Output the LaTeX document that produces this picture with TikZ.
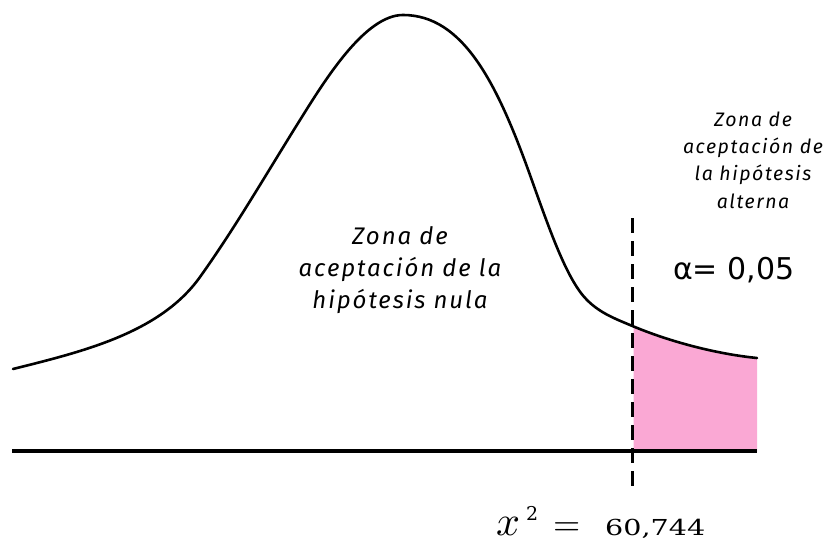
\documentclass[tikz,border=0pt]{standalone}
\usepackage{fontspec}
\setmainfont{Fira Sans}
\newfontfamily\labelfont[LetterSpace=8]{Fira Sans}
\newfontfamily\alphafont{DejaVu Sans}
\newfontfamily\numfont{DejaVu Serif}
\definecolor{tailpink}{RGB}{250,168,212}
\tikzset{
  curveline/.style={line width=2.6pt, line join=round, line cap=round},
  axisline/.style={line width=4pt},
  critline/.style={line width=3pt, dash pattern=on 15pt off 8pt},
  zonelabel/.style={align=center, inner sep=0pt, font=\labelfont\itshape\fontsize{24}{32}\selectfont},
  altlabel/.style={align=center, inner sep=0pt, font=\labelfont\itshape\fontsize{19.5}{27.3}\selectfont},
  mathpart/.style={inner sep=0pt, anchor=base west},
}
\begin{document}
\begin{tikzpicture}[x=1pt,y=-1pt]
\path[use as bounding box] (0,0) rectangle (824,540);
% tail fill
\begin{scope}
\clip (633.5,0) rectangle (757,452);
\fill[tailpink] (630,325) .. controls (670,342) and (717,354) .. (757,358) -- (757,452) -- (630,452) -- cycle;
\end{scope}
% curve
\draw[curveline] (13,369) .. controls (83,351.5) and (160,333) .. (200,277)
  .. controls (235,228) and (265,176) .. (300,120)
  .. controls (325,80) and (365,15) .. (403,15)
  .. controls (463,15) and (497,83) .. (530,175)
  .. controls (550,231) and (567,280) .. (587,300)
  .. controls (600,313) and (615,318.7) .. (630,325)
  .. controls (670,342) and (717,354) .. (757,358);
% axis
\coordinate (axL) at (12,451);
\coordinate (axR) at (757,451);
\draw[axisline] (axL) -- (axR);
% critical line
\coordinate (cTop) at (632,218);
\coordinate (cBot) at (632,491);
\draw[critline] (cTop) -- (cBot);
% labels
\node[zonelabel] (nullzone) at (400,270) {Zona de\\aceptación de la\\hipótesis nula};
\node[altlabel] (altzone) at (753,160) {Zona de\\aceptación de\\la hipótesis\\alterna};
\node[inner sep=0pt, anchor=west, font=\alphafont\fontsize{30}{30}\selectfont] (alpha) at (673,270) {α= 0,05};
\node[mathpart] (chix) at (496,535) {\scalebox{4.2}{$x$}};
\node[mathpart] (chitwo) at (526,520) {\numfont\fontsize{19}{19}\selectfont 2};
\node[mathpart] (chieq) at (553,535) {\scalebox{3.5}{$=$}};
\node[mathpart] (chival) at (605,535) {\numfont\fontsize{22}{22}\selectfont\scalebox{1.3}[1]{60,744}};
\end{tikzpicture}
\end{document}
